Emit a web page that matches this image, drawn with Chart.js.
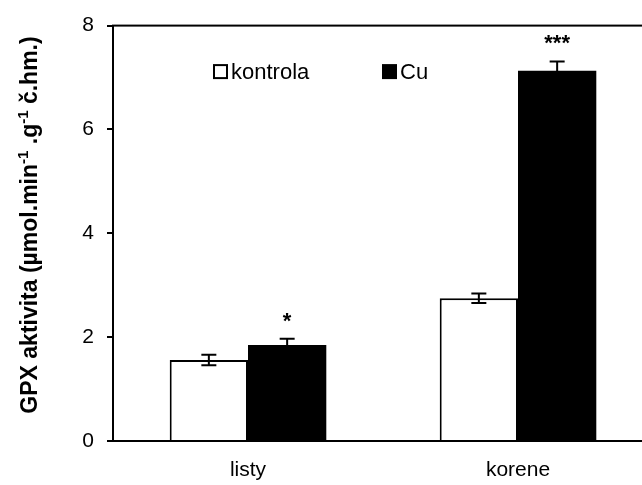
<!DOCTYPE html>
<html>
<head>
<meta charset="utf-8">
<script src="https://cdn.jsdelivr.net/npm/chart.js@4"></script>
<style>
html,body{margin:0;padding:0;overflow:hidden;background:#fff;}
#wrap{width:670px;height:485px;}
</style>
</head>
<body>
<div id="wrap"><canvas id="c" width="670" height="485"></canvas></div>
<script>
const categories = ["listy", "korene"];
const seriesNames = ["kontrola", "Cu"];
const kontrolaValues = [1.56, 2.75];
const kontrolaErrors = [0.10, 0.09];
const cuValues = [1.85, 7.13];
const cuErrors = [0.12, 0.18];
const kontrolaMarks = ["", ""];
const cuMarks = ["*", "***"];
const yTicks = [0, 2, 4, 6, 8];

const FONT = '"Liberation Sans", Arial, sans-serif';

const errorBarPlugin = {
  id: 'errorBars',
  afterDatasetsDraw(chart) {
    const ctx = chart.ctx;
    const y = chart.scales.y;
    chart.data.datasets.forEach((ds, di) => {
      const meta = chart.getDatasetMeta(di);
      meta.data.forEach((bar, i) => {
        const v = ds.data[i], e = ds.errors[i];
        const x = bar.x;
        const yTop = y.getPixelForValue(v + e);
        const yBot = y.getPixelForValue(v - e);
        ctx.save();
        ctx.strokeStyle = '#000';
        ctx.lineWidth = 2;
        ctx.beginPath();
        ctx.moveTo(x, yTop); ctx.lineTo(x, yBot);
        ctx.moveTo(x - 7.5, yTop); ctx.lineTo(x + 7.5, yTop);
        ctx.moveTo(x - 7.5, yBot); ctx.lineTo(x + 7.5, yBot);
        ctx.stroke();
        const m = ds.marks[i];
        if (m) {
          ctx.fillStyle = '#000';
          ctx.font = 'bold 22px ' + FONT;
          ctx.textAlign = 'center';
          ctx.textBaseline = 'alphabetic';
          ctx.fillText(m, x, yTop - 11);
        }
        ctx.restore();
      });
    });
  }
};

const framePlugin = {
  id: 'frame',
  afterDraw(chart) {
    const a = chart.chartArea, ctx = chart.ctx;
    ctx.save();
    ctx.strokeStyle = '#000';
    ctx.lineWidth = 2;
    ctx.strokeRect(a.left, a.top, a.right - a.left, a.bottom - a.top);
    ctx.restore();
  }
};

const legendPlugin = {
  id: 'innerLegend',
  afterDraw(chart) {
    const a = chart.chartArea, ctx = chart.ctx;
    const items = [
      {x: a.left + 101, ds: chart.data.datasets[0]},
      {x: a.left + 270, ds: chart.data.datasets[1]}
    ];
    const cy = a.top + 46;
    ctx.save();
    items.forEach(it => {
      ctx.fillStyle = it.ds.backgroundColor;
      ctx.fillRect(it.x, cy - 6.5, 13, 13);
      ctx.strokeStyle = '#000';
      ctx.lineWidth = 2;
      ctx.strokeRect(it.x, cy - 6.5, 13, 13);
      ctx.fillStyle = '#000';
      ctx.font = '22px ' + FONT;
      ctx.textAlign = 'left';
      ctx.textBaseline = 'middle';
      ctx.fillText(it.ds.label, it.x + 17, cy + 1);
    });
    ctx.restore();
  }
};

const titlePlugin = {
  id: 'yTitle',
  afterDraw(chart) {
    const ctx = chart.ctx;
    const parts = [
      {t: "GPX aktivita (µmol.min", sup: false},
      {t: "-1", sup: true},
      {t: " .g", sup: false},
      {t: "-1", sup: true},
      {t: " č.hm.)", sup: false}
    ];
    const big = 'bold 23px ' + FONT, small = 'bold 15px ' + FONT;
    ctx.save();
    let total = 0;
    parts.forEach(p => { ctx.font = p.sup ? small : big; p.w = ctx.measureText(p.t).width; total += p.w; });
    ctx.translate(31, 225);
    ctx.rotate(-Math.PI / 2);
    ctx.fillStyle = '#000';
    ctx.textBaseline = 'middle';
    ctx.textAlign = 'left';
    let x = -total / 2;
    parts.forEach(p => {
      ctx.font = p.sup ? small : big;
      ctx.fillText(p.t, x, p.sup ? -7 : 0);
      x += p.w;
    });
    ctx.restore();
  }
};

new Chart(document.getElementById('c'), {
  type: 'bar',
  data: {
    labels: categories,
    datasets: [
      {label: seriesNames[0], data: kontrolaValues, errors: kontrolaErrors, marks: kontrolaMarks,
       backgroundColor: '#ffffff', borderColor: '#000000', borderWidth: 2, borderSkipped: 'bottom'},
      {label: seriesNames[1], data: cuValues, errors: cuErrors, marks: cuMarks,
       backgroundColor: '#000000', borderColor: '#000000', borderWidth: 0}
    ]
  },
  options: {
    responsive: false,
    animation: false,
    layout: {padding: {top: 24, right: 17, left: 0, bottom: 0}},
    categoryPercentage: 0.58,
    barPercentage: 1.0,
    plugins: {legend: {display: false}, tooltip: {enabled: false}, title: {display: false}},
    scales: {
      x: {
        grid: {display: false, drawTicks: false},
        border: {display: false},
        ticks: {color: '#000', font: {family: FONT, size: 21}, padding: 17},
        afterFit(s) { s.height = 44; }
      },
      y: {
        min: 0, max: 8,
        afterBuildTicks(s) { s.ticks = yTicks.map(v => ({value: v})); },
        grid: {drawOnChartArea: false, drawTicks: true, tickLength: 6, color: '#000', lineWidth: 2},
        border: {display: false},
        ticks: {color: '#000', font: {family: FONT, size: 21}, padding: 13},
        afterFit(s) { s.width = 113; }
      }
    }
  },
  plugins: [errorBarPlugin, framePlugin, legendPlugin, titlePlugin]
});
</script>
</body>
</html>
